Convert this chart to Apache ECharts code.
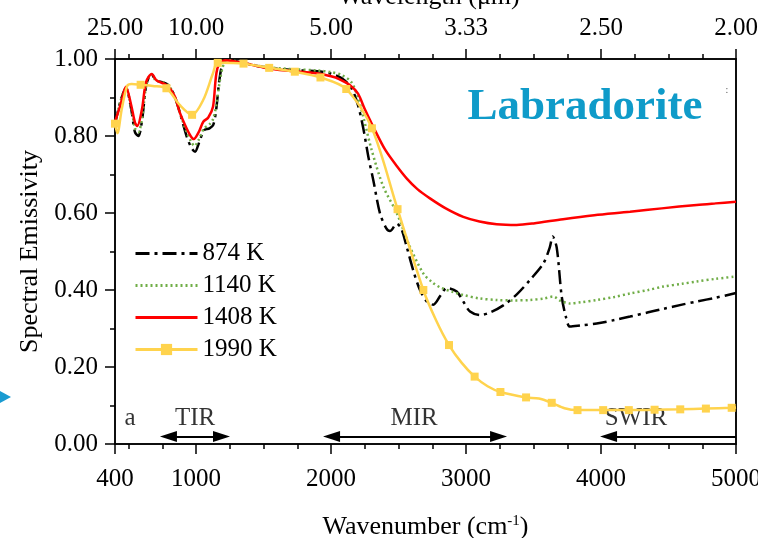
<!DOCTYPE html>
<html><head><meta charset="utf-8">
<script src="https://cdn.jsdelivr.net/npm/echarts@6/dist/echarts.min.js"></script>
<style>html,body{margin:0;padding:0;background:#fff}#c{width:758px;height:538px}</style>
</head><body><div id="c"></div>
<script>
const FONT = '"Liberation Serif","Times New Roman",serif';
const seriesNames = ['874 K', '1140 K', '1408 K', '1990 K'];

const wn874 = [400, 440, 481, 520, 548, 573, 600, 630, 654, 672, 700, 750, 795, 840, 881, 930, 965, 993, 1020, 1060, 1100, 1128, 1150, 1175, 1202, 1250, 1350, 1500, 1700, 1900, 2000, 2080, 2150, 2200, 2239, 2280, 2313, 2363, 2410, 2437, 2487, 2520, 2560, 2610, 2659, 2710, 2758, 2810, 2857, 2931, 2980, 3030, 3104, 3180, 3276, 3380, 3474, 3573, 3620, 3642, 3672, 3709, 3740, 3770, 3850, 3968, 4100, 4215, 4350, 4462, 4600, 4709, 4850, 5000];
const em874 = [0.83, 0.89, 0.925, 0.87, 0.81, 0.80, 0.84, 0.93, 0.955, 0.96, 0.945, 0.94, 0.932, 0.905, 0.86, 0.80, 0.77, 0.759, 0.78, 0.815, 0.82, 0.829, 0.87, 0.95, 0.99, 0.997, 0.99, 0.979, 0.972, 0.968, 0.962, 0.95, 0.925, 0.88, 0.82, 0.74, 0.686, 0.599, 0.56, 0.553, 0.572, 0.56, 0.513, 0.45, 0.40, 0.37, 0.362, 0.385, 0.405, 0.396, 0.37, 0.344, 0.335, 0.342, 0.36, 0.39, 0.426, 0.469, 0.51, 0.539, 0.51, 0.383, 0.33, 0.305, 0.308, 0.313, 0.322, 0.331, 0.342, 0.351, 0.362, 0.37, 0.38, 0.392];

const wn1140 = [400, 440, 481, 520, 548, 573, 600, 630, 654, 672, 700, 750, 795, 840, 881, 930, 965, 988, 1020, 1060, 1100, 1128, 1150, 1180, 1210, 1250, 1350, 1500, 1700, 1900, 2000, 2080, 2150, 2200, 2239, 2300, 2388, 2487, 2585, 2684, 2750, 2807, 2900, 2980, 3100, 3227, 3350, 3474, 3580, 3647, 3700, 3770, 3850, 3968, 4100, 4215, 4350, 4462, 4600, 4709, 4850, 5000];
const em1140 = [0.83, 0.89, 0.925, 0.875, 0.82, 0.81, 0.845, 0.93, 0.955, 0.96, 0.945, 0.94, 0.932, 0.905, 0.86, 0.81, 0.785, 0.774, 0.79, 0.82, 0.83, 0.845, 0.88, 0.95, 0.99, 0.997, 0.99, 0.98, 0.974, 0.97, 0.966, 0.958, 0.94, 0.90, 0.85, 0.765, 0.668, 0.60, 0.512, 0.443, 0.42, 0.407, 0.395, 0.387, 0.378, 0.374, 0.373, 0.374, 0.378, 0.383, 0.372, 0.365, 0.368, 0.374, 0.382, 0.391, 0.40, 0.409, 0.416, 0.422, 0.429, 0.435];

const wn1408 = [400, 440, 481, 520, 548, 565, 600, 630, 672, 709, 783, 840, 881, 930, 960, 983, 1020, 1054, 1091, 1126, 1158, 1215, 1350, 1524, 1700, 1894, 2000, 2060, 2141, 2200, 2250, 2313, 2400, 2487, 2560, 2640, 2733, 2850, 2980, 3100, 3227, 3375, 3500, 3719, 3950, 4215, 4450, 4709, 4850, 5000];
const em1408 = [0.837, 0.88, 0.928, 0.88, 0.835, 0.826, 0.87, 0.94, 0.961, 0.944, 0.932, 0.905, 0.86, 0.82, 0.80, 0.792, 0.81, 0.837, 0.848, 0.876, 0.975, 0.997, 0.99, 0.976, 0.969, 0.963, 0.955, 0.948, 0.932, 0.91, 0.87, 0.824, 0.765, 0.722, 0.69, 0.662, 0.638, 0.612, 0.59, 0.578, 0.571, 0.569, 0.573, 0.584, 0.594, 0.603, 0.612, 0.621, 0.625, 0.629];

const wn1990 = [400, 418, 450, 490, 524, 590, 680, 781, 881, 971, 1054, 1126, 1161, 1352, 1542, 1732, 1922, 2113, 2303, 2493, 2684, 2780, 2874, 2970, 3064, 3160, 3255, 3445, 3540, 3635, 3730, 3826, 4016, 4206, 4397, 4587, 4777, 4968, 5000];
const em1990 = [0.832, 0.807, 0.87, 0.93, 0.935, 0.933, 0.93, 0.924, 0.88, 0.855, 0.894, 0.963, 0.99, 0.988, 0.977, 0.967, 0.952, 0.922, 0.82, 0.61, 0.40, 0.32, 0.257, 0.21, 0.175, 0.15, 0.135, 0.121, 0.118, 0.107, 0.093, 0.088, 0.088, 0.088, 0.089, 0.09, 0.092, 0.094, 0.095];
const markers1990 = [400, 590, 781, 971, 1161, 1352, 1542, 1732, 1922, 2113, 2303, 2493, 2684, 2874, 3064, 3255, 3445, 3635, 3826, 4016, 4206, 4397, 4587, 4777, 4968];

const xMajorTicks = [400, 1000, 2000, 3000, 4000, 5000];
const xMinorTicks = [500, 750, 1250, 1500, 1750, 2250, 2500, 2750, 3250, 3500, 3750, 4250, 4500, 4750];

const regionNames = ['TIR', 'MIR', 'SWIR'];
const regionFrom = [796, 2004, 4056];
const regionTo = [1189, 3241, 5000];
const regionLabelX = [993, 2615, 4259];
const regionArrowY = 0.0195;
const regionLabelY = 0.0675;
const panelLetter = 'a';
const panelLetterX = 511;
const chartTitle = 'Labradorite';

const chart = echarts.init(document.getElementById('c'));
const black = '#000';
const axisLineStyle = {color: black, width: 1.5};

function zip(xs, ys, mk) {
  return xs.map((x, i) => mk ? (mk.includes(x) ? [x, ys[i]] : {value: [x, ys[i]], symbol: 'none'}) : [x, ys[i]]);
}

function xAxisDef(pos, major) {
  return {
    type: 'value', position: pos, min: 400, max: 5000,
    axisLine: {show: major, lineStyle: axisLineStyle},
    axisTick: {show: true, length: major ? 10 : 5, lineStyle: axisLineStyle,
      customValues: major ? xMajorTicks : xMinorTicks},
    axisLabel: major ? {
      show: true, customValues: xMajorTicks, fontFamily: FONT, fontSize: 25, color: black,
      margin: pos === 'top' ? 18 : 23,
      showMinLabel: true, showMaxLabel: true,
      formatter: pos === 'top' ? (v => (10000 / v).toFixed(2)) : (v => String(v))
    } : {show: false},
    splitLine: {show: false}
  };
}

const xAxes = [xAxisDef('bottom', true), xAxisDef('bottom', false), xAxisDef('top', true), xAxisDef('top', false)];
xAxes[0].name = 'Wavenumber (cm{sup|-1})';
xAxes[0].nameLocation = 'middle';
xAxes[0].nameGap = 70;
xAxes[0].nameTextStyle = {fontFamily: FONT, fontSize: 26, color: black,
  rich: {sup: {fontFamily: FONT, fontSize: 15, color: black, verticalAlign: 'top', padding: [0, 0, 10, 0]}}};

const annotData = regionNames.map((n, i) => [regionLabelX[i], regionLabelY, n]);
annotData.push([panelLetterX, regionLabelY, panelLetter]);

const markLineData = regionNames.map((n, i) => [
  {coord: [regionFrom[i], regionArrowY], symbol: 'triangle'},
  {coord: [regionTo[i], regionArrowY], symbol: regionTo[i] >= 5000 ? 'none' : 'triangle'}
]);

const option = {
  animation: false,
  backgroundColor: '#fff',
  grid: {left: 115, right: 22, top: 59, bottom: 94, show: true, borderColor: black, borderWidth: 1.5, outerBoundsMode: 'none'},
  xAxis: xAxes,
  yAxis: [{
    type: 'value', min: 0, max: 1, interval: 0.2, position: 'left',
    axisLine: {show: true, lineStyle: axisLineStyle},
    axisTick: {show: true, length: 10, lineStyle: axisLineStyle},
    minorTick: {show: true, splitNumber: 2, length: 5, lineStyle: axisLineStyle},
    axisLabel: {formatter: v => v.toFixed(2), fontFamily: FONT, fontSize: 25, color: black, margin: 17},
    splitLine: {show: false},
    name: 'Spectral Emissivity', nameLocation: 'middle', nameGap: 66,
    nameTextStyle: {fontFamily: FONT, fontSize: 26, color: black}
  }, {
    type: 'value', min: 0, max: 1, position: 'right',
    axisLine: {show: true, lineStyle: axisLineStyle}, axisTick: {show: false},
    axisLabel: {show: false}, splitLine: {show: false}
  }],
  legend: {
    orient: 'vertical', left: 134, top: 241, padding: 0, itemWidth: 62, itemHeight: 14, itemGap: 7,
    lineStyle: {width: 3},
    data: [
      {name: seriesNames[0], itemStyle: {opacity: 0}},
      {name: seriesNames[1], itemStyle: {opacity: 0}},
      {name: seriesNames[2], itemStyle: {opacity: 0}},
      {name: seriesNames[3]}
    ],
    textStyle: {fontFamily: FONT, fontSize: 25, color: black, lineHeight: 25}
  },
  series: [
    {name: seriesNames[0], type: 'line', data: zip(wn874, em874), symbol: 'none', smooth: 0.3,
      lineStyle: {color: black, width: 2.5, type: [14, 5, 3, 5]}, itemStyle: {color: black}},
    {name: seriesNames[1], type: 'line', data: zip(wn1140, em1140), symbol: 'none', smooth: 0.3,
      lineStyle: {color: '#70ad47', width: 2.5, type: [2, 3]}, itemStyle: {color: '#70ad47'}},
    {name: seriesNames[2], type: 'line', data: zip(wn1408, em1408), symbol: 'none', smooth: 0.3,
      lineStyle: {color: '#ff0000', width: 2.5}, itemStyle: {color: '#ff0000'}},
    {name: seriesNames[3], type: 'line', data: zip(wn1990, em1990, markers1990), symbol: 'rect', symbolSize: 8,
      showSymbol: true, smooth: 0.3,
      lineStyle: {color: '#ffd34d', width: 2.5}, itemStyle: {color: '#ffd34d'}},
    {name: 'annot', type: 'scatter', data: annotData, symbolSize: 0, silent: true,
      label: {show: true, position: 'inside', formatter: p => p.data[2], fontFamily: FONT, fontSize: 25, color: black},
      markLine: {silent: true, symbolSize: [11, 17], label: {show: false},
        lineStyle: {color: black, width: 2, type: 'solid'}, data: markLineData}}
  ],
  graphic: [
    {type: 'text', x: 585, y: 107, style: {text: chartTitle, fill: '#0f9bc9', font: 'bold 45px ' + FONT,
      textAlign: 'center', textVerticalAlign: 'middle'}},
    {type: 'text', x: 429, y: 10, style: {text: 'Wavelength (μm)', fill: black, font: '26px ' + FONT,
      textAlign: 'center', textVerticalAlign: 'bottom'}},
    {type: 'polygon', shape: {points: [[0, 391], [11, 397], [0, 403]]}, style: {fill: '#1a9bd1'}},
    {type: 'text', x: 727, y: 90, style: {text: ':', fill: '#555', font: '10px ' + FONT,
      textAlign: 'center', textVerticalAlign: 'middle'}}
  ]
};
chart.setOption(option);
</script>
</body></html>
